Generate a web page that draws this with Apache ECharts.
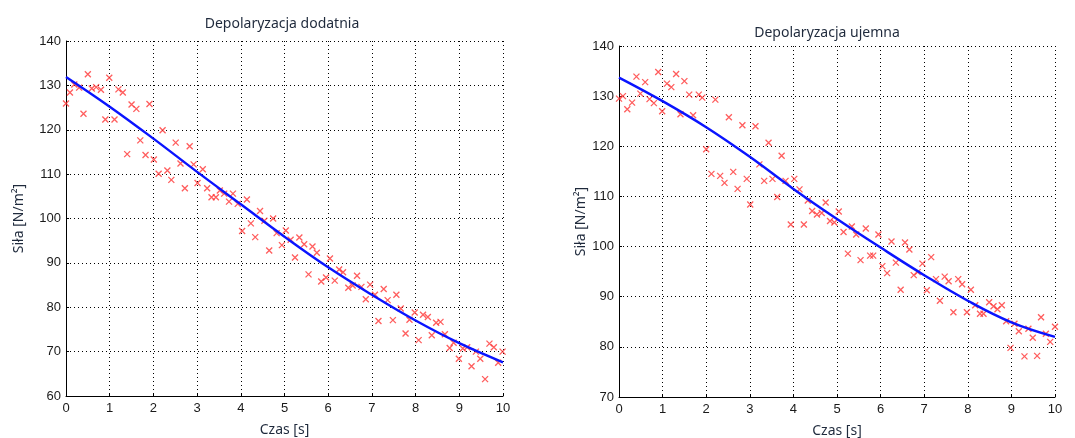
<!DOCTYPE html>
<html>
<head>
<meta charset="utf-8">
<script src="https://cdn.jsdelivr.net/npm/echarts@6/dist/echarts.min.js"></script>
<style>
  html, body { margin: 0; padding: 0; background: #ffffff; }
  #chart { width: 1075px; height: 438px; }
</style>
</head>
<body>
<div id="chart"></div>
<script>
// ---- Depolaryzacja dodatnia: measured samples ----
const posTime = [0.00,0.09,0.19,0.30,0.40,0.50,0.59,0.69,0.80,0.90,0.99,1.11,1.20,1.30,1.40,1.50,1.61,1.70,1.82,1.91,
  2.01,2.12,2.21,2.32,2.41,2.51,2.62,2.72,2.83,2.92,3.01,3.13,3.23,3.33,3.43,3.52,3.62,3.73,3.82,3.93,
  4.03,4.14,4.23,4.33,4.44,4.54,4.65,4.74,4.82,4.94,5.03,5.14,5.24,5.34,5.45,5.55,5.64,5.74,5.84,5.95,
  6.04,6.15,6.25,6.34,6.46,6.56,6.66,6.76,6.86,6.96,7.07,7.15,7.27,7.36,7.48,7.56,7.66,7.77,7.86,7.98,
  8.07,8.17,8.28,8.37,8.47,8.57,8.67,8.78,8.87,8.99,9.08,9.18,9.28,9.38,9.48,9.59,9.69,9.79,9.89,9.99];
const posForce = [125.9,128.4,130.2,129.5,123.6,132.5,129.3,129.6,129.0,122.3,131.7,122.3,129.1,128.4,114.5,125.7,124.7,117.6,114.3,125.8,
  113.3,110.1,119.9,110.8,108.7,117.1,112.4,106.8,116.3,112.2,108.0,111.1,106.8,104.8,104.8,106.3,105.6,103.8,105.6,103.3,
  97.2,104.3,98.9,95.8,101.7,99.5,92.8,100.0,96.7,94.0,97.3,95.2,91.2,95.7,94.2,87.4,93.7,92.3,85.8,86.7,
  91.0,86.0,88.5,87.9,84.4,84.9,87.1,84.6,81.8,85.1,82.8,76.9,84.1,81.6,77.1,82.8,79.7,74.1,77.2,78.8,
  72.6,78.3,77.8,73.7,76.5,76.7,73.9,70.8,72.0,68.4,70.7,71.0,66.7,70.0,68.4,63.8,71.8,71.0,67.5,70.0];

// ---- Depolaryzacja ujemna: measured samples ----
const negTime = [0.00,0.09,0.19,0.30,0.40,0.49,0.60,0.70,0.80,0.90,0.99,1.10,1.20,1.31,1.41,1.50,1.61,1.70,1.83,1.91,
  2.00,2.12,2.21,2.32,2.42,2.52,2.62,2.72,2.83,2.93,3.01,3.13,3.22,3.33,3.43,3.52,3.63,3.73,3.82,3.94,
  4.02,4.14,4.24,4.33,4.43,4.54,4.65,4.74,4.84,4.94,5.04,5.15,5.25,5.34,5.44,5.54,5.66,5.76,5.83,5.95,
  6.04,6.15,6.25,6.35,6.46,6.56,6.66,6.76,6.85,6.96,7.06,7.16,7.27,7.36,7.47,7.56,7.67,7.78,7.87,7.98,
  8.07,8.17,8.28,8.36,8.49,8.59,8.68,8.78,8.88,8.98,9.07,9.17,9.30,9.39,9.49,9.59,9.68,9.79,9.89,10.00];
const negForce = [129.5,130.0,127.4,128.7,133.9,130.5,132.8,129.4,128.6,134.8,127.0,132.5,131.8,134.4,126.4,133.0,130.3,126.2,130.3,129.7,
  119.4,114.5,129.3,114.1,112.7,125.8,114.9,111.5,124.2,113.5,108.4,124.0,116.4,113.1,120.7,113.5,109.9,118.1,113.1,104.4,
  113.5,111.4,104.4,109.2,107.1,106.4,106.7,108.8,105.1,104.8,107.0,102.9,98.6,104.0,102.4,97.3,103.6,98.2,98.2,102.4,
  96.1,94.7,101.0,96.8,91.4,100.8,99.4,94.3,94.9,96.6,91.3,97.9,93.5,89.2,94.0,93.1,86.9,93.5,92.5,86.9,
  91.4,88.3,86.6,86.6,88.9,88.1,87.5,88.3,85.1,79.8,84.6,83.1,78.1,83.6,81.8,78.2,85.9,82.6,81.0,84.0];

// ---- fitted trend curves (sampled each second) ----
const fitTime = [0,1,2,3,4,5,6,7,8,9,10];
const posFit = [131.9,125.2,118.0,110.5,103.2,95.9,89.0,82.8,77.0,71.9,67.6];
const negFit = [133.7,129.0,123.8,117.9,111.5,105.5,99.8,94.3,89.2,84.9,82.0];

// ---- axis ticks ----
const timeTicks = { min: 0, max: 10, interval: 1 };
const posForceTicks = { min: 60, max: 140, interval: 10 };
const negForceTicks = { min: 70, max: 140, interval: 10 };

const titles = ['Depolaryzacja dodatnia', 'Depolaryzacja ujemna'];
const xName = 'Czas [s]';
const yName = 'Siła [N/m²]';

const zip = (xs, ys) => xs.map((x, i) => [x, ys[i]]);

const textDark = '#1f2a3c';
const tickFont = { color: '#1a1a1a', fontSize: 13, fontFamily: 'Liberation Sans, Arial, sans-serif' };

function xAxisFor(gridIndex) {
  return {
    type: 'value', gridIndex,
    min: timeTicks.min, max: timeTicks.max, interval: timeTicks.interval,
    name: xName, nameLocation: 'middle', nameGap: 27,
    nameTextStyle: { color: textDark, fontSize: 14, fontFamily: 'Noto Sans, sans-serif' },
    axisLine: { show: true, onZero: false, lineStyle: { color: '#000', width: 1 } },
    axisTick: { show: true, inside: true, length: 3, lineStyle: { color: '#000' } },
    axisLabel: Object.assign({ margin: 6 }, tickFont),
    splitLine: { show: true, lineStyle: { color: '#000', width: 1, type: [1, 3] } }
  };
}
function yAxisFor(gridIndex, ticks, gap) {
  return {
    type: 'value', gridIndex,
    min: ticks.min, max: ticks.max, interval: ticks.interval,
    name: yName, nameLocation: 'middle', nameGap: gap, nameRotate: 90,
    nameTextStyle: { color: textDark, fontSize: 14, fontFamily: 'Noto Sans, sans-serif' },
    axisLine: { show: true, onZero: false, lineStyle: { color: '#000', width: 1 } },
    axisTick: { show: true, inside: true, length: 3, lineStyle: { color: '#000' } },
    axisLabel: Object.assign({ margin: 5 }, tickFont),
    splitLine: { show: true, lineStyle: { color: '#000', width: 1, type: [1, 3] } }
  };
}

const crossSymbol = 'path://M0,0L10,10M10,0L0,10';
function samples(xIndex, data) {
  return {
    type: 'scatter', xAxisIndex: xIndex, yAxisIndex: xIndex,
    data, symbol: crossSymbol, symbolSize: 6, z: 3,
    itemStyle: { color: '#ff3535', borderColor: '#ff3535', borderWidth: 1.3, opacity: 0.8 },
    silent: true
  };
}
function trend(xIndex, data) {
  return {
    type: 'line', xAxisIndex: xIndex, yAxisIndex: xIndex,
    data, smooth: 0.4, showSymbol: false, z: 4,
    lineStyle: { color: '#0a14ff', width: 2.4 },
    silent: true
  };
}

const chart = echarts.init(document.getElementById('chart'), null, { renderer: 'canvas' });
chart.setOption({
  animation: false,
  backgroundColor: '#ffffff',
  title: [
    { text: titles[0], left: 277, top: 12, textAlign: 'center',
      textStyle: { color: textDark, fontSize: 14, fontWeight: 'normal', fontFamily: 'Noto Sans, sans-serif' } },
    { text: titles[1], left: 822, top: 21, textAlign: 'center',
      textStyle: { color: textDark, fontSize: 14, fontWeight: 'normal', fontFamily: 'Noto Sans, sans-serif' } }
  ],
  grid: [
    { left: 66, top: 41, width: 437, height: 355, outerBoundsMode: 'none' },
    { left: 619, top: 46, width: 436, height: 351, outerBoundsMode: 'none' }
  ],
  xAxis: [xAxisFor(0), xAxisFor(1)],
  yAxis: [yAxisFor(0, posForceTicks, 40), yAxisFor(1, negForceTicks, 31)],
  series: [
    samples(0, zip(posTime, posForce)),
    trend(0, zip(fitTime, posFit)),
    samples(1, zip(negTime, negForce)),
    trend(1, zip(fitTime, negFit))
  ]
});
</script>
</body>
</html>
